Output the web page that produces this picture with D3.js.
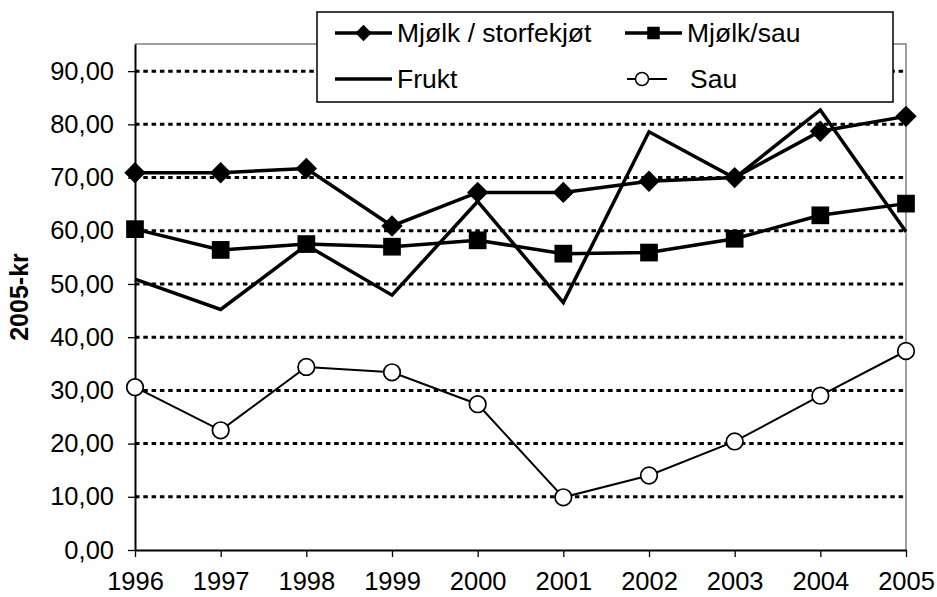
<!DOCTYPE html>
<html>
<head>
<meta charset="utf-8">
<script src="https://cdn.jsdelivr.net/npm/d3@7"></script>
<style>
  body { margin: 0; background: #fff; }
  text { font-family: "Liberation Sans", Arial, sans-serif; fill: #000; }
</style>
</head>
<body>
<div id="chart"></div>
<script>
// data
var years = ["1996", "1997", "1998", "1999", "2000", "2001", "2002", "2003", "2004", "2005"];
var mjolkStorfe = [70.9, 70.9, 71.7, 60.9, 67.2, 67.2, 69.3, 70.0, 78.7, 81.5];
var mjolkSau = [60.3, 56.4, 57.5, 57.0, 58.2, 55.7, 55.9, 58.5, 62.9, 65.1];
var frukt = [50.9, 45.2, 57.3, 47.9, 65.5, 46.5, 78.6, 69.9, 82.7, 59.8];
var sau = [30.6, 22.5, 34.4, 33.4, 27.4, 9.9, 14.0, 20.4, 29.0, 37.4];
var yTicks = [0, 10, 20, 30, 40, 50, 60, 70, 80, 90];
var seriesNames = ["Mjølk / storfekjøt", "Mjølk/sau", "Frukt", "Sau"];

var svg = d3.select("#chart").append("svg").attr("width", 937).attr("height", 597),
    margin = {top: 44, right: 31, bottom: 47, left: 135},
    width = +svg.attr("width") - margin.left - margin.right,
    height = +svg.attr("height") - margin.top - margin.bottom;

var g = svg.append("g").attr("transform", "translate(" + margin.left + "," + margin.top + ")");

var x = d3.scalePoint().domain(years).range([0, width]).padding(0);
var y = d3.scaleLinear().domain([0, 95.1]).range([height, 0]);

var no = d3.formatLocale({decimal: ",", thousands: " ", grouping: [3], currency: ["", " kr"]});
var fmt = no.format(".2f");

// plot area border (grey top/right)
g.append("path")
    .attr("d", "M0,0H" + width + "V" + height)
    .attr("fill", "none").attr("stroke", "#808080").attr("stroke-width", 1.5);

// dotted grid
g.selectAll(".grid").data(yTicks.filter(function(d) { return d > 0; }))
    .enter().append("line")
    .attr("x1", 0).attr("x2", width)
    .attr("y1", function(d) { return y(d); }).attr("y2", function(d) { return y(d); })
    .attr("stroke", "#000").attr("stroke-width", 3).attr("stroke-dasharray", "4.5,3.8");

var yAxis = g.append("g")
    .call(d3.axisLeft(y).tickValues(yTicks).tickFormat(fmt).tickSize(7).tickSizeOuter(0).tickPadding(14));
var xAxis = g.append("g")
    .attr("transform", "translate(0," + height + ")")
    .call(d3.axisBottom(x).tickSize(7).tickSizeOuter(0).tickPadding(15));

[yAxis, xAxis].forEach(function(a) {
    a.select(".domain").attr("stroke", "#000").attr("stroke-width", 2);
    a.selectAll(".tick line").attr("stroke", "#000").attr("stroke-width", 1.3);
    a.selectAll("text").style("font-size", "25.5px").attr("font-family", null);
});

svg.append("text")
    .attr("transform", "translate(28," + (margin.top + height / 2) + ") rotate(-90)")
    .attr("text-anchor", "middle")
    .style("font-size", "25px").style("font-weight", "bold")
    .text("2005-kr");

var line = d3.line()
    .x(function(d, i) { return x(years[i]); })
    .y(function(d) { return y(d); });

var diamond = d3.symbol().type(d3.symbolDiamond2).size(290);
var square = d3.symbol().type(d3.symbolSquare2).size(400);

function drawLine(vals, w) {
    g.append("path").datum(vals).attr("d", line)
        .attr("fill", "none").attr("stroke", "#000").attr("stroke-width", w)
        .attr("stroke-linejoin", "miter");
}

drawLine(mjolkStorfe, 3.5);
g.selectAll(".dia").data(mjolkStorfe).enter().append("path")
    .attr("d", diamond)
    .attr("transform", function(d, i) { return "translate(" + x(years[i]) + "," + y(d) + ")"; })
    .attr("fill", "#000");

drawLine(mjolkSau, 3.5);
g.selectAll(".sq").data(mjolkSau).enter().append("path")
    .attr("d", square)
    .attr("transform", function(d, i) { return "translate(" + x(years[i]) + "," + y(d) + ")"; })
    .attr("fill", "#000");

drawLine(frukt, 3.5);

drawLine(sau, 2);
g.selectAll(".circ").data(sau).enter().append("circle")
    .attr("cx", function(d, i) { return x(years[i]); })
    .attr("cy", function(d) { return y(d); })
    .attr("r", 8.3)
    .attr("fill", "#fff").attr("stroke", "#000").attr("stroke-width", 1.7);

// legend
var leg = svg.append("g");
leg.append("rect").attr("x", 317).attr("y", 12).attr("width", 576).attr("height", 90)
    .attr("fill", "#fff").attr("stroke", "#000").attr("stroke-width", 1.5);

var legItems = [
    {name: seriesNames[0], x: 335, y: 33, w: 3.5, mark: "dia"},
    {name: seriesNames[1], x: 625, y: 33, w: 3.5, mark: "sq"},
    {name: seriesNames[2], x: 335, y: 79, w: 3.5, mark: null},
    {name: seriesNames[3], x: 627, y: 79, w: 2, mark: "circ"}
];
legItems.forEach(function(it) {
    var len = it.mark === "circ" ? 40 : 57;
    leg.append("line").attr("x1", it.x).attr("x2", it.x + len)
        .attr("y1", it.y).attr("y2", it.y)
        .attr("stroke", "#000").attr("stroke-width", it.w);
    var cx = it.x + len / 2;
    if (it.mark === "dia") {
        leg.append("path").attr("d", d3.symbol().type(d3.symbolDiamond2).size(170))
            .attr("transform", "translate(" + cx + "," + it.y + ")").attr("fill", "#000");
    } else if (it.mark === "sq") {
        leg.append("path").attr("d", d3.symbol().type(d3.symbolSquare2).size(200))
            .attr("transform", "translate(" + cx + "," + it.y + ")").attr("fill", "#000");
    } else if (it.mark === "circ") {
        leg.append("circle").attr("cx", cx - 5).attr("cy", it.y).attr("r", 6.5)
            .attr("fill", "#fff").attr("stroke", "#000").attr("stroke-width", 1.5);
    }
    leg.append("text").attr("x", it.mark === "circ" ? 690 : it.x + 62).attr("y", it.y + 9)
        .style("font-size", "26.5px").text(it.name);
});
</script>
</body>
</html>
